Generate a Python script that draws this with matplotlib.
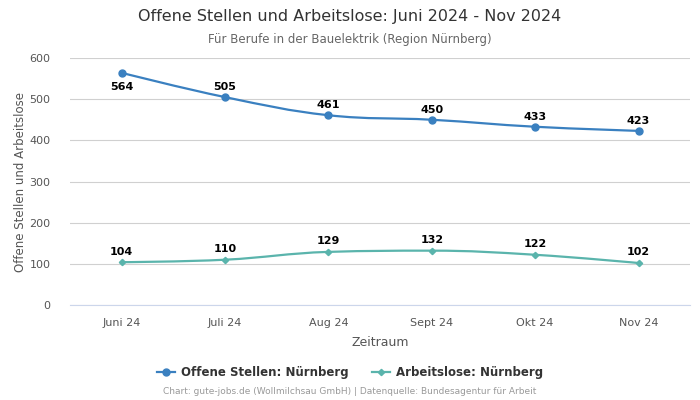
import matplotlib
matplotlib.use('Agg')
import matplotlib.pyplot as plt
from matplotlib.path import Path
from matplotlib.patches import PathPatch
from matplotlib.lines import Line2D

# Daten
monate = ["Juni 24", "Juli 24", "Aug 24", "Sept 24", "Okt 24", "Nov 24"]
offene_stellen = [564, 505, 461, 450, 433, 423]
arbeitslose = [104, 110, 129, 132, 122, 102]

farbe_os = "#3a80c0"
farbe_al = "#5ab4ac"


def spline_path(xs, ys, smoothing=1.5):
    # Kurve wie bei Highcharts "spline" aus Bezier-Segmenten
    denom = smoothing + 1
    n = len(xs)
    ctrl = []
    for i in range(n):
        if i == 0 or i == n - 1:
            ctrl.append((xs[i], ys[i], xs[i], ys[i]))
            continue
        lx, ly = xs[i - 1], ys[i - 1]
        nx, ny = xs[i + 1], ys[i + 1]
        px, py = xs[i], ys[i]
        lcx = (smoothing * px + lx) / denom
        lcy = (smoothing * py + ly) / denom
        rcx = (smoothing * px + nx) / denom
        rcy = (smoothing * py + ny) / denom
        if rcx != lcx:
            corr = (rcy - lcy) * (rcx - px) / (rcx - lcx) + py - rcy
            lcy += corr
            rcy += corr
        if lcy > ly and lcy > py:
            lcy = max(ly, py)
            rcy = 2 * py - lcy
        elif lcy < ly and lcy < py:
            lcy = min(ly, py)
            rcy = 2 * py - lcy
        if rcy > ny and rcy > py:
            rcy = max(ny, py)
            lcy = 2 * py - rcy
        elif rcy < ny and rcy < py:
            rcy = min(ny, py)
            lcy = 2 * py - rcy
        ctrl.append((lcx, lcy, rcx, rcy))
    verts = [(xs[0], ys[0])]
    codes = [Path.MOVETO]
    for i in range(1, n):
        verts += [(ctrl[i - 1][2], ctrl[i - 1][3]), (ctrl[i][0], ctrl[i][1]), (xs[i], ys[i])]
        codes += [Path.CURVE4] * 3
    return Path(verts, codes)


fig = plt.figure(figsize=(7, 4), dpi=100)
ax = fig.add_axes([0.1, 0.2375, 0.886, 0.6175])

x = list(range(len(monate)))

for werte, farbe, marker, ms in [(offene_stellen, farbe_os, "o", 5),
                                 (arbeitslose, farbe_al, "D", 3.2)]:
    ax.add_patch(PathPatch(spline_path(x, werte), facecolor="none",
                           edgecolor=farbe, lw=1.6, zorder=3))
    ax.plot(x, werte, linestyle="none", marker=marker, ms=ms, color=farbe, zorder=4)

# Beschriftungen
for i, v in enumerate(offene_stellen):
    if i == 0:
        ax.annotate(str(v), (i, v), xytext=(0, -6.5), textcoords="offset points",
                    ha="center", va="top", fontsize=8, fontweight="bold", color="black")
    else:
        ax.annotate(str(v), (i, v), xytext=(0, 3.5), textcoords="offset points",
                    ha="center", va="bottom", fontsize=8, fontweight="bold", color="black")
for i, v in enumerate(arbeitslose):
    ax.annotate(str(v), (i, v), xytext=(0, 4), textcoords="offset points",
                ha="center", va="bottom", fontsize=8, fontweight="bold", color="black")

ax.set_xlim(-0.5, len(monate) - 0.5)
ax.set_ylim(0, 600)
ax.set_yticks(range(0, 601, 100))
ax.set_xticks(x)
ax.set_xticklabels(monate)
ax.tick_params(axis="both", length=0, labelsize=8, labelcolor="#555555")
ax.tick_params(axis="x", pad=9)
ax.tick_params(axis="y", pad=14)
ax.grid(axis="y", color="#d0d0d0", lw=0.8)
ax.set_axisbelow(True)
for s in ["top", "right", "left"]:
    ax.spines[s].set_visible(False)
ax.spines["bottom"].set_color("#ccd6eb")

ax.set_xlabel("Zeitraum", fontsize=9, color="#555555", labelpad=6)
ax.set_ylabel("Offene Stellen und Arbeitslose", fontsize=8.5, color="#555555", labelpad=2)

fig.text(0.5, 0.958, "Offene Stellen und Arbeitslose: Juni 2024 - Nov 2024",
         ha="center", va="center", fontsize=11.5, color="#333333")
fig.text(0.5, 0.9025, "Für Berufe in der Bauelektrik (Region Nürnberg)",
         ha="center", va="center", fontsize=8.5, color="#666666")

handles = [Line2D([], [], color=farbe_os, marker="o", ms=5, lw=1.6),
           Line2D([], [], color=farbe_al, marker="D", ms=3.2, lw=1.6)]
fig.legend(handles, ["Offene Stellen: Nürnberg", "Arbeitslose: Nürnberg"],
           loc="center", bbox_to_anchor=(0.5, 0.068), ncol=2, frameon=False,
           prop={"size": 8.5, "weight": "bold"}, labelcolor="#333333",
           handlelength=1.5, columnspacing=2.0, handletextpad=0.5)

fig.text(0.5, 0.02, "Chart: gute-jobs.de (Wollmilchsau GmbH) | Datenquelle: Bundesagentur für Arbeit",
         ha="center", va="center", fontsize=6.5, color="#999999")

plt.savefig("out.png", dpi=100)
